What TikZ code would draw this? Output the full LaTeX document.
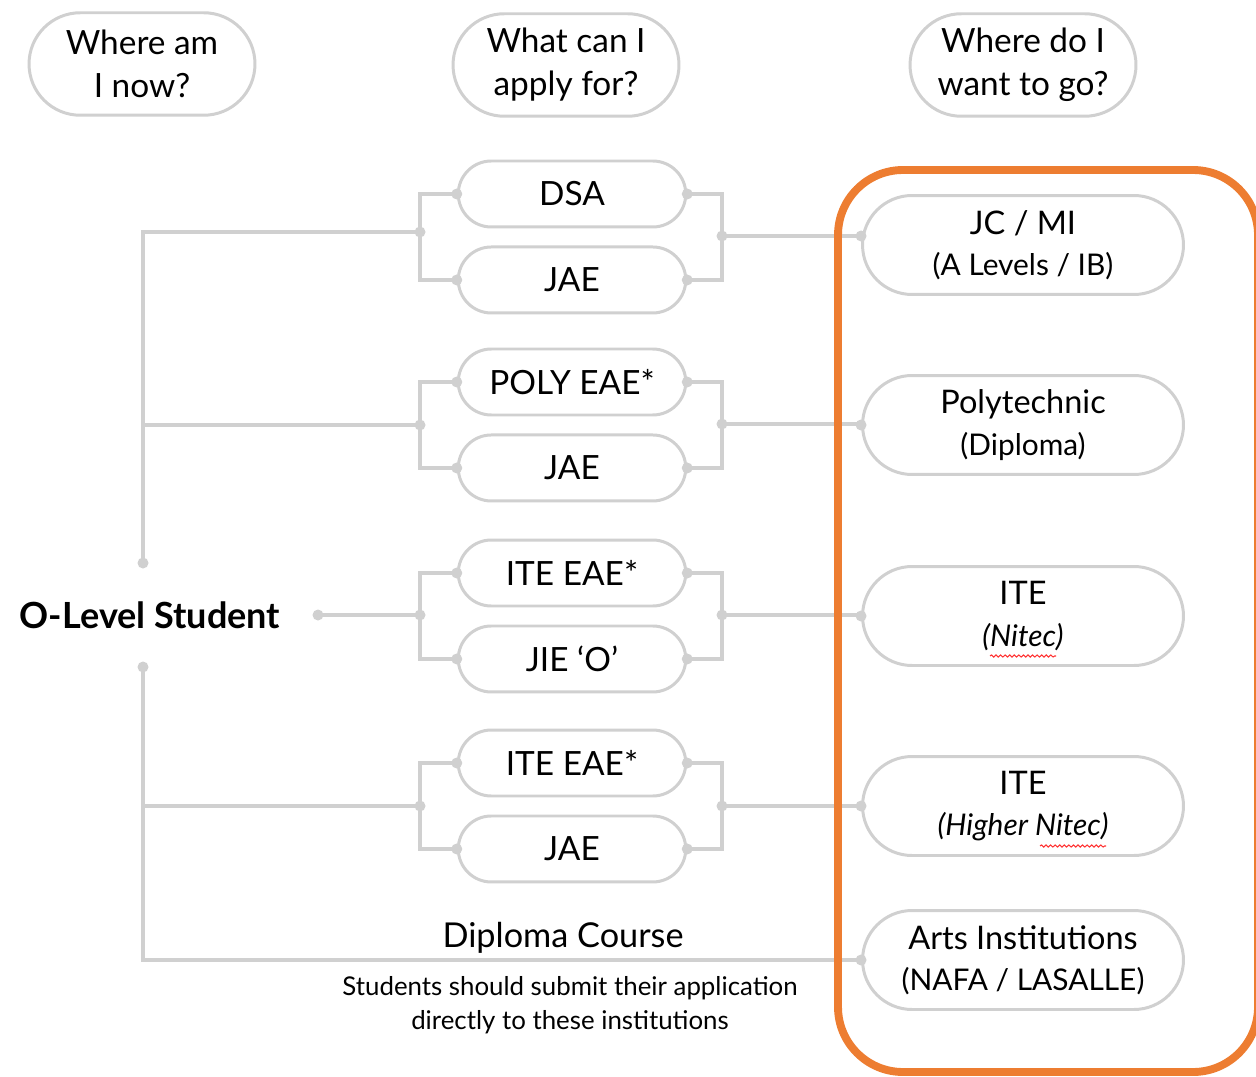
\documentclass[tikz,border=0pt]{standalone}
\usepackage{fontspec}
\setmainfont{Lato}
\usepackage{tikz}
\usetikzlibrary{shapes.misc,positioning,decorations.pathmorphing}
\definecolor{lgrey}{HTML}{D0D0D0}
\definecolor{orng}{HTML}{ED7D31}

\begin{document}
\begin{tikzpicture}[x=0.02cm,y=-0.02cm,node distance=1.72cm]
  \tikzstyle{pill}=[rounded rectangle,draw=lgrey,line width=1.7pt,fill=white,text=black,align=center,inner sep=0pt]
  \tikzstyle{head}=[pill,minimum width=4.52cm,minimum height=2.05cm,font=\fontsize{19}{24.5}\selectfont]
  \tikzstyle{route}=[pill,minimum width=4.55cm,minimum height=1.32cm,font=\fontsize{19}{21}\selectfont]
  \tikzstyle{goal}=[pill,minimum width=6.42cm,minimum height=1.98cm,font=\fontsize{18.5}{22.5}\selectfont]
  \tikzstyle{sub}=[font=\fontsize{17}{19}\selectfont]
  \tikzstyle{dot}=[circle,fill=lgrey,inner sep=0pt,minimum size=0.22cm]
  \tikzstyle{link}=[draw=lgrey,line width=2.2pt]
  \tikzstyle{squiggle}=[draw=red!80,line width=0.6pt,decorate,decoration={snake,amplitude=0.6pt,segment length=2.6pt}]

  \useasboundingbox (0,0) rectangle (1256,1077);

  % column heads
  \node[head] (where)  at (142,64)  {Where am\\I now?};
  \node[head] (what)   at (566,65)  {What can I\\apply for?};
  \node[head] (wantgo) at (1023,65) {Where do I\\want to go?};

  % what can I apply for
  \node[route] (dsa)                      at (572,194) {DSA};
  \node[route] (jae1)    [below of=dsa]                {JAE};
  \node[route] (poly)                     at (572,382) {POLY EAE*};
  \node[route] (jae2)    [below of=poly]               {JAE};
  \node[route] (iteeae1)                  at (572,573) {ITE EAE*};
  \node[route] (jie)     [below of=iteeae1]            {JIE ‘O’};
  \node[route] (iteeae2)                  at (572,763) {ITE EAE*};
  \node[route] (jae3)    [below of=iteeae2]            {JAE};

  % where do I want to go
  \node[goal] (jc)    at (1023,245) {JC / MI\\[1pt]{\fontsize{17}{19}\selectfont(A Levels / IB)}};
  \node[goal] (polyt) at (1023,425) {Polytechnic\\[1pt]{\fontsize{17}{19}\selectfont(Diploma)}};
  \node[goal] (ite1)  at (1023,616) {ITE\\[1pt]{\fontsize{17}{19}\selectfont\itshape(Nitec)}};
  \node[goal] (ite2)  at (1023,806) {ITE\\[1pt]{\fontsize{17}{19}\selectfont\itshape(Higher Nitec)}};
  \node[goal] (arts)  at (1023,960) {Arts Institutions\\[1pt]{\fontsize{17}{19}\selectfont(NAFA / LASALLE)}};

  \node[font=\fontsize{20.5}{24}\bfseries] (olevel) at (150,615) {O-Level Student};

  \coordinate (d1) at (143,563);
  \coordinate (d2) at (143,667);
  \coordinate (d3) at (318,615);
  \coordinate (l1) at (420,232);
  \coordinate (l2) at (420,425);
  \coordinate (l3) at (420,615);
  \coordinate (l4) at (420,806);
  \coordinate (r1) at (722,236);
  \coordinate (r2) at (722,424);
  \coordinate (r3) at (722,615);
  \coordinate (r4) at (722,806);

  % brackets
  \draw[link] (dsa.west) -| (l1) |- (jae1.west);
  \draw[link] (dsa.east) -| (r1) |- (jae1.east);
  \draw[link] (poly.west) -| (l2) |- (jae2.west);
  \draw[link] (poly.east) -| (r2) |- (jae2.east);
  \draw[link] (iteeae1.west) -| (l3) |- (jie.west);
  \draw[link] (iteeae1.east) -| (r3) |- (jie.east);
  \draw[link] (iteeae2.west) -| (l4) |- (jae3.west);
  \draw[link] (iteeae2.east) -| (r4) |- (jae3.east);

  % trunk
  \draw[link] (l1) -| (d1);
  \draw[link] (l2) -- (l2 -| d1);
  \draw[link] (d3) -- (l3);
  \draw[link] (l4) -| (d2);
  \draw[link] (arts.west) -| (d2);

  % to the goals
  \draw[link] (r1) -- (r1 -| jc.west);
  \draw[link] (r2) -- (r2 -| polyt.west);
  \draw[link] (r3) -- (r3 -| ite1.west);
  \draw[link] (r4) -- (r4 -| ite2.west);

  \path (d1) node[dot]{} (d2) node[dot]{} (d3) node[dot]{}
        (l1) node[dot]{} (l2) node[dot]{} (l3) node[dot]{} (l4) node[dot]{}
        (r1) node[dot]{} (r2) node[dot]{} (r3) node[dot]{} (r4) node[dot]{};
  \path (dsa.west) node[dot]{} (dsa.east) node[dot]{} (jae1.west) node[dot]{} (jae1.east) node[dot]{}
        (poly.west) node[dot]{} (poly.east) node[dot]{} (jae2.west) node[dot]{} (jae2.east) node[dot]{}
        (iteeae1.west) node[dot]{} (iteeae1.east) node[dot]{} (jie.west) node[dot]{} (jie.east) node[dot]{}
        (iteeae2.west) node[dot]{} (iteeae2.east) node[dot]{} (jae3.west) node[dot]{} (jae3.east) node[dot]{};
  \path (r1 -| jc.west) node[dot]{} (polyt.west) node[dot]{} (ite1.west) node[dot]{}
        (ite2.west) node[dot]{} (arts.west) node[dot]{};

  \node[font=\fontsize{19.5}{22}\selectfont] (diploma) at (563,938) {Diploma Course};
  \node[font=\fontsize{14.7}{19.5}\selectfont,align=center] (note) at (570,1005)
    {Students should submit their application\\directly to these institutions};

  % spell check marks
  \draw[squiggle] ([shift={(-33,40)}]ite1.center) -- ([shift={(33,40)}]ite1.center);
  \draw[squiggle] ([shift={(17,40)}]ite2.center) -- ([shift={(83,40)}]ite2.center);

  \draw[orng,line width=4.5pt,rounded corners=1.3cm] (838,170) rectangle (1258,1072);
\end{tikzpicture}
\end{document}
